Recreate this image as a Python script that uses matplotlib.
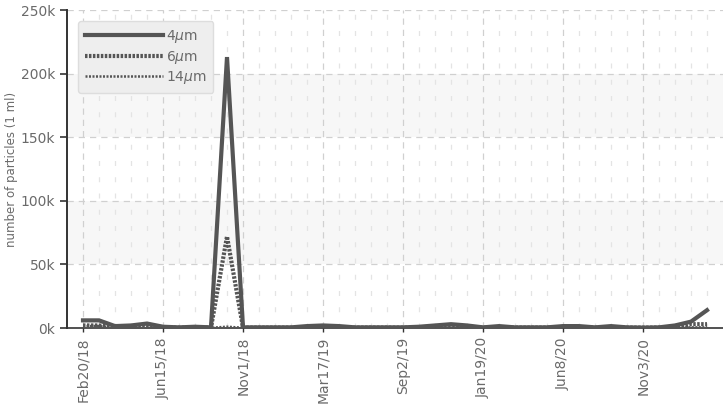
import matplotlib
matplotlib.use("Agg")
import matplotlib.pyplot as plt
from matplotlib.ticker import FuncFormatter, MultipleLocator

plt.rcParams['font.family'] = ['DejaVu Sans']

# dates shown on the x axis (every 5th sample)
tick_labels = ["Feb20/18", "Jun15/18", "Nov1/18", "Mar17/19",
               "Sep2/19", "Jan19/20", "Jun8/20", "Nov3/20"]

# particle counts per 1 ml, in thousands
p4 = [6, 6, 1.5, 2, 3.5, 1, 0.5, 1, 0.5, 213,
      0.5, 0.5, 0.5, 0.5, 1.5, 2, 1.5, 0.5, 0.5, 0.5,
      0.5, 1, 2, 3, 2, 0.5, 1.5, 0.5, 0.5, 0.5,
      1.5, 1.5, 0.5, 1.5, 0.5, 0.3, 0.5, 2, 5, 14]
p6 = [2, 2, 0.5, 0.5, 1, 0.3, 0.3, 0.3, 0.3, 72,
      0.3, 0.3, 0.3, 0.3, 0.5, 0.5, 0.5, 0.3, 0.3, 0.3,
      0.3, 0.3, 0.5, 0.8, 0.5, 0.3, 0.3, 0.3, 0.3, 0.3,
      0.5, 0.5, 0.3, 0.5, 0.3, 0.3, 0.3, 0.3, 3, 3]
p14 = [1.5, 1.5, 0.2, 0.2, 0.3, 0.2, 0.2, 0.2, 0.2, 1,
       0.2, 0.2, 0.2, 0.2, 0.2, 0.2, 0.2, 0.2, 0.2, 0.2,
       0.2, 0.2, 0.2, 0.2, 0.2, 0.2, 0.2, 0.2, 0.2, 0.2,
       0.2, 0.2, 0.2, 0.2, 0.2, 0.2, 0.2, 0.2, 0.5, 0.5]

x = list(range(len(p4)))
col = "#555555"
txt = "#6a6a6a"

fig = plt.figure(figsize=(7.23, 4.09), dpi=100)
ax = fig.add_axes([67/723, 1-328/409, 1-67/723, (328-10)/409])

# light bands
for lo in [50, 150]:
    ax.axhspan(lo*1000, (lo+50)*1000, color="#f7f7f7", zorder=0, lw=0)

# grid
for yv in range(50000, 250001, 50000):
    ax.axhline(yv, color="#d0d0d0", lw=0.9, ls=(0, (5, 4)), zorder=1)
for i in x:
    if i % 5 == 0:
        ax.axvline(i, color="#d0d0d0", lw=0.9, ls=(0, (5, 4)), zorder=1)
    else:
        ax.axvline(i, color="#e4e4e4", lw=0.9, ls=(0, (4, 9)), zorder=1)

ax.plot(x, [v*1000 for v in p4], color=col, lw=3, solid_joinstyle="miter", label=r"4$\mu$m", zorder=4)
ax.plot(x, [v*1000 for v in p6], color=col, lw=3, ls=(0, (0.6, 0.35)), label=r"6$\mu$m", zorder=3)
ax.plot(x, [v*1000 for v in p14], color=col, lw=1.8, ls=(0, (0.8, 0.6)), label=r"14$\mu$m", zorder=3)

ax.set_xlim(-1, 40)
ax.set_ylim(0, 250000)
ax.set_xticks(range(0, 40, 5))
ax.set_xticklabels(tick_labels, rotation=90, color=txt, fontsize=10)
ax.yaxis.set_major_locator(MultipleLocator(50000))
ax.yaxis.set_major_formatter(FuncFormatter(lambda v, p: "%dk" % (v/1000)))
ax.tick_params(axis="y", colors="#333333", labelcolor=txt, labelsize=10, length=5, width=1.2)
ax.tick_params(axis="x", colors="#333333", labelcolor=txt, length=3, width=1)
ax.set_ylabel("number of particles (1 ml)", color=txt, fontsize=8.5, labelpad=2)

for s in ["top", "right"]:
    ax.spines[s].set_visible(False)
ax.spines["left"].set_color("#333333")
ax.spines["left"].set_linewidth(1.4)
ax.spines["bottom"].set_color("#333333")
ax.spines["bottom"].set_linewidth(1.2)

leg = ax.legend(loc="upper left", bbox_to_anchor=(0.017, 0.965), handlelength=5.6,
                fontsize=10, frameon=True, fancybox=True, labelspacing=0.25,
                handletextpad=0.2, borderpad=0.5, borderaxespad=0)
leg.get_frame().set_facecolor("#eeeeee")
leg.get_frame().set_edgecolor("#dddddd")
leg.get_frame().set_alpha(1)
for t in leg.get_texts():
    t.set_color(txt)

fig.savefig("out.png", dpi=100)
